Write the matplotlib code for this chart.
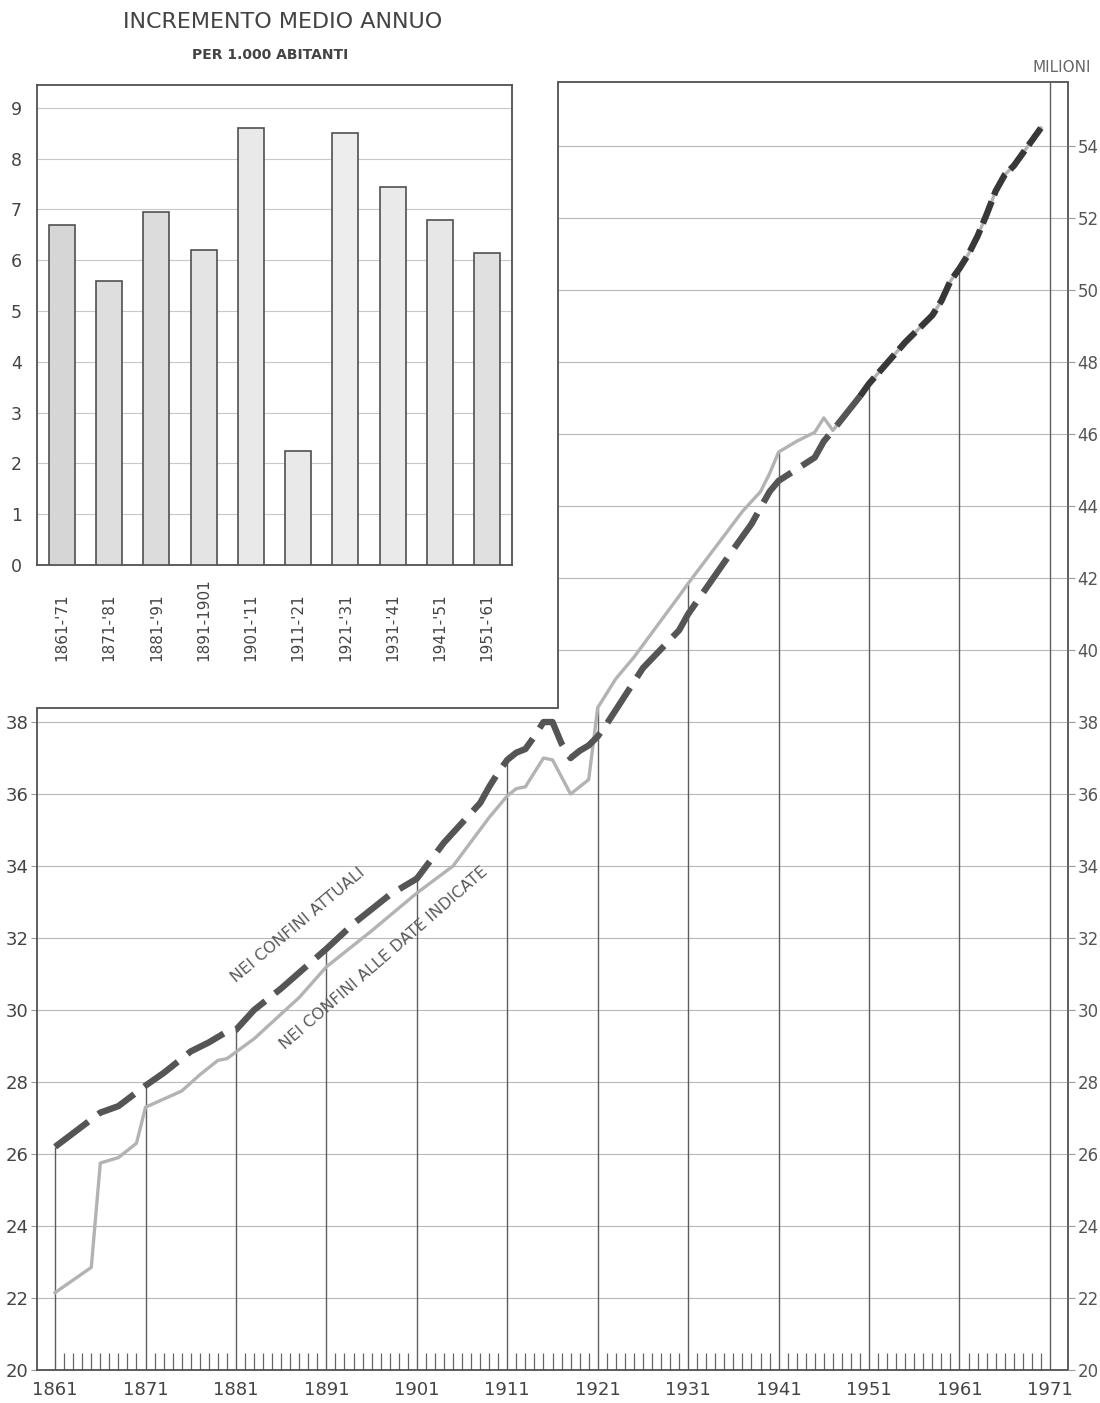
import numpy as np
import matplotlib
matplotlib.use("Agg")
import matplotlib.pyplot as plt

plt.rcParams['font.family'] = ['DejaVu Sans']
plt.rcParams['lines.scale_dashes'] = False

# ---------------- DATA ----------------
bar_periods = ["1861-'71", "1871-'81", "1881-'91", "1891-1901", "1901-'11",
               "1911-'21", "1921-'31", "1931-'41", "1941-'51", "1951-'61"]
bar_values = [6.7, 5.6, 6.95, 6.2, 8.6, 2.25, 8.5, 7.45, 6.8, 6.15]

# Popolazione nei confini attuali (milioni)
years_attuali = [1861, 1866, 1868, 1871, 1873, 1876, 1878, 1880, 1881, 1883,
                 1886, 1891, 1894, 1898, 1901, 1904, 1906, 1908, 1909, 1910,
                 1911, 1912, 1913, 1914, 1915, 1916, 1917, 1918, 1919, 1920,
                 1921, 1922, 1926, 1930, 1931, 1936, 1938, 1940, 1941, 1945,
                 1946, 1947, 1950, 1951, 1955, 1956, 1958, 1959, 1960, 1961,
                 1962, 1963, 1964, 1965, 1966, 1967, 1968, 1970]
pop_attuali = [26.2, 27.15, 27.33, 27.9, 28.25, 28.85, 29.1, 29.4, 29.45, 30.0,
               30.6, 31.7, 32.4, 33.2, 33.65, 34.65, 35.2, 35.75, 36.2, 36.6,
               36.95, 37.15, 37.25, 37.6, 38.0, 38.0, 37.4, 37.0, 37.2, 37.35,
               37.6, 37.95, 39.5, 40.55, 41.0, 42.8, 43.5, 44.4, 44.7, 45.35,
               45.8, 46.1, 47.05, 47.4, 48.55, 48.8, 49.3, 49.7, 50.25, 50.6,
               51.0, 51.5, 52.1, 52.75, 53.2, 53.45, 53.8, 54.5]

# Popolazione nei confini alle date indicate (milioni)
years_date = [1861, 1865, 1866, 1868, 1870, 1871, 1875, 1877, 1879, 1880,
              1883, 1888, 1891, 1896, 1901, 1905, 1909, 1911, 1912, 1913,
              1915, 1916, 1918, 1920, 1921, 1923, 1925, 1930, 1931, 1937,
              1939, 1940, 1941, 1943, 1945, 1946, 1947, 1950, 1951, 1955,
              1956, 1958, 1959, 1960, 1961, 1962, 1963, 1964, 1965, 1966,
              1967, 1968, 1970]
pop_date = [22.15, 22.85, 25.75, 25.9, 26.3, 27.3, 27.75, 28.2, 28.6, 28.65,
            29.2, 30.35, 31.2, 32.2, 33.25, 34.0, 35.35, 35.95, 36.15, 36.2,
            37.0, 36.95, 36.0, 36.4, 38.4, 39.2, 39.8, 41.5, 41.85, 43.85,
            44.4, 44.9, 45.5, 45.8, 46.05, 46.45, 46.1, 47.05, 47.4, 48.55,
            48.8, 49.3, 49.7, 50.25, 50.6, 51.0, 51.5, 52.1, 52.75, 53.2,
            53.45, 53.8, 54.5]

decade_ticks = [1861, 1871, 1881, 1891, 1901, 1911, 1921, 1931, 1941, 1951, 1961, 1971]
left_ticks = [20, 22, 24, 26, 28, 30, 32, 34, 36, 38]
right_ticks = [20, 22, 24, 26, 28, 30, 32, 34, 36, 38, 40, 42, 44, 46, 48, 50, 52, 54]
inset_ticks = [0, 1, 2, 3, 4, 5, 6, 7, 8, 9]

# ---------------- STYLE / LAYOUT ----------------
TXT = '#444444'
FRAME = '#505050'
bar_fills = ['#d6d6d6', '#dedede', '#dcdcdc', '#e4e4e4', '#e9e9e9',
             '#e9e9e9', '#ededed', '#eaeaea', '#e7e7e7', '#e0e0e0']

XMIN, XMAX = 1859.0, 1973.0
YMIN, YMAX = 20.0, 55.78
X_STEP, Y_STEP = 1916.6, 38.4

W, H = 1100, 1403
fig = plt.figure(figsize=(W / 100, H / 100), dpi=100)
fig.patch.set_facecolor('white')

ax = fig.add_axes([37 / W, 33 / H, 1031 / W, 1288 / H])
ax.set_xlim(XMIN, XMAX)
ax.set_ylim(YMIN, YMAX)
ax.set_facecolor('none')
for s in ax.spines.values():
    s.set_visible(False)

# L-shaped frame
fx = [XMIN, XMIN, X_STEP, X_STEP, XMAX, XMAX, XMIN]
fy = [YMIN, Y_STEP, Y_STEP, YMAX, YMAX, YMIN, YMIN]
ax.plot(fx, fy, color=FRAME, lw=1.3, clip_on=False, zorder=3,
        solid_joinstyle='miter')

# horizontal grid
for v in right_ticks[1:]:
    x0 = XMIN if v <= Y_STEP else X_STEP
    ax.hlines(v, x0, XMAX, color='#b8b8b8', lw=0.8, zorder=1)

# vertical decade lines up to the curves
ya, pa = np.array(years_attuali), np.array(pop_attuali)
yd, pdv = np.array(years_date), np.array(pop_date)
dec = np.array(decade_ticks)
upper = np.maximum(np.interp(dec, ya, pa), np.interp(dec, yd, pdv))
ax.vlines(dec[:-1], YMIN, upper[:-1], color='#5e5e5e', lw=1.0, zorder=1)
ax.vlines(dec[-1], YMIN, YMAX, color='#5e5e5e', lw=1.0, zorder=1)

# series
ax.plot(yd, pdv, color='#b3b3b3', lw=2.4, zorder=4, solid_joinstyle='round')
m1 = ya <= 1950
m2 = ya >= 1950
ax.plot(ya[m1], pa[m1], color='#555555', lw=4.6, dashes=(30, 9),
        dash_capstyle='butt', zorder=5)
ax.plot(ya[m2], pa[m2], color='#383838', lw=4.6, dashes=(17, 5),
        dash_capstyle='butt', zorder=5)

# line labels
ax.text(1887.9, 32.35, 'NEI CONFINI ATTUALI', rotation=40, rotation_mode='anchor',
        ha='center', va='center', fontsize=11.5, color='#5a5a5a', zorder=6)
ax.text(1897.3, 31.45, 'NEI CONFINI ALLE DATE INDICATE', rotation=41,
        rotation_mode='anchor', ha='center', va='center', fontsize=11.5,
        color='#5a5a5a', zorder=6)

# x ticks
ax.set_xticks(decade_ticks)
ax.set_xticklabels([str(d) for d in decade_ticks])
minor_years = [y for y in range(1862, 1971) if (y - 1861) % 10 != 0]
ax.set_xticks(minor_years, minor=True)
ax.tick_params(axis='x', which='major', length=0, pad=8, labelsize=13,
               labelcolor=TXT)
ax.tick_params(axis='x', which='minor', direction='in', length=12, width=0.9,
               color='#666666')

# left y ticks
ax.set_yticks(left_ticks)
ax.tick_params(axis='y', length=4, width=0.8, color='#999999', labelsize=13,
               labelcolor=TXT, pad=2)

# right y ticks
ax2 = ax.twinx()
ax2.set_ylim(YMIN, YMAX)
for s in ax2.spines.values():
    s.set_visible(False)
ax2.set_yticks(right_ticks)
ax2.tick_params(axis='y', length=5, width=0.8, color='#999999', labelsize=12,
                labelcolor='#555555', pad=2)

fig.text(1062 / W, 1 - 68 / H, 'MILIONI', ha='center', va='center',
         fontsize=11, color='#666666')

# ---------------- INSET BAR CHART ----------------
axi = fig.add_axes([37 / W, (H - 565) / H, 475 / W, 480 / H])
axi.set_xlim(-0.53, 9.53)
axi.set_ylim(0, 9.45)
xi = np.arange(len(bar_values))
axi.bar(xi, bar_values, width=0.55, color=bar_fills, edgecolor=FRAME,
        linewidth=1.2, zorder=3)
axi.hlines(inset_ticks[1:], -0.53, 9.53, color='#c8c8c8', lw=0.8, zorder=1)
axi.set_xticks([])
axi.set_yticks(inset_ticks)
axi.tick_params(axis='y', length=0, pad=11, labelsize=12.5, labelcolor=TXT)
for s in axi.spines.values():
    s.set_color(FRAME)
    s.set_linewidth(1.3)
for i, lab in enumerate(bar_periods):
    axi.text(i, -0.2, lab, transform=axi.get_xaxis_transform(), rotation=90,
             ha='center', va='bottom', fontsize=11, color=TXT)

fig.text(283 / W, 1 - 22 / H, 'INCREMENTO MEDIO ANNUO', ha='center',
         va='center', fontsize=16, color=TXT)
fig.text(270 / W, 1 - 55 / H, 'PER 1.000 ABITANTI', ha='center', va='center',
         fontsize=10, fontweight='bold', color=TXT)

fig.savefig('out.png', dpi=100)
